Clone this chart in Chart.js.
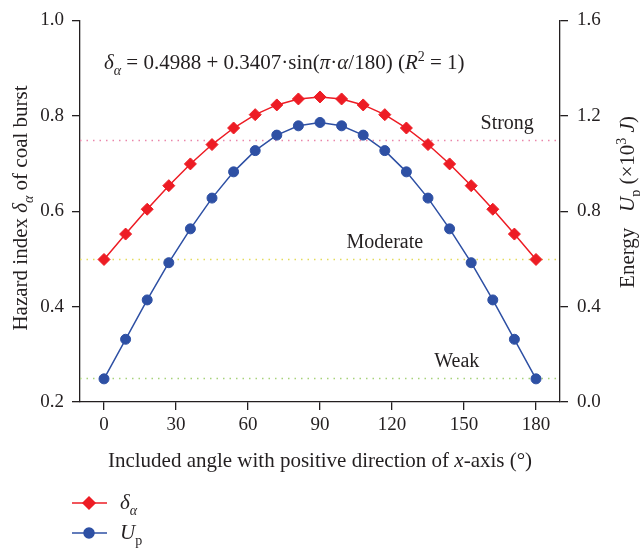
<!DOCTYPE html>
<html>
<head>
<meta charset="utf-8">
<script src="https://cdn.jsdelivr.net/npm/chart.js@4.4.1/dist/chart.umd.min.js"></script>
<style>
  html, body { margin: 0; padding: 0; background: #fff; }
  #wrap { width: 640px; height: 556px; }
</style>
</head>
<body>
<div id="wrap"><canvas id="chart" width="640" height="556"></canvas></div>
<script>
// included angle (deg)
const angles = [0, 9, 18, 27, 36, 45, 54, 63, 72, 81, 90, 99, 108, 117, 126, 135, 144, 153, 162, 171, 180];
// hazard index delta_alpha (left axis)
const hazardIndex = [0.4988, 0.5521, 0.6041, 0.6535, 0.6991, 0.7397, 0.7744, 0.8024, 0.8228, 0.8353, 0.8395,
                     0.8353, 0.8228, 0.8024, 0.7744, 0.7397, 0.6991, 0.6535, 0.6041, 0.5521, 0.4988];
// energy Up x10^3 J (right axis)
const energy = [0.097, 0.263, 0.428, 0.584, 0.726, 0.855, 0.965, 1.054, 1.119, 1.158, 1.172,
                1.158, 1.119, 1.054, 0.965, 0.855, 0.726, 0.584, 0.428, 0.263, 0.097];
const xTicks = [0, 30, 60, 90, 120, 150, 180];
const levelValues = [0.75, 0.5, 0.25];
const levelNames = ['Strong', 'Moderate', 'Weak'];
const levelLabelAt = [168, 117, 147];

const INK = '#231f20';
const RED = '#ed1c24';
const BLUE = '#2e50a4';
const levelColors = ['#ea86aa', '#e4dc5a', '#a6d27a'];
const FAMILY = '"Liberation Serif", "Times New Roman", serif';

// draw a run of text pieces: [text, flags] with i = italic, b = subscript, p = superscript
function drawRuns(ctx, runs, x, y, size, align) {
  const fontOf = f => (f.includes('i') ? 'italic ' : '') +
    Math.round((f.includes('b') || f.includes('p')) ? size * 0.68 : size) + 'px ' + FAMILY;
  let w = 0;
  runs.forEach(([t, f]) => { ctx.font = fontOf(f); w += ctx.measureText(t).width; });
  let cx = align === 'center' ? x - w / 2 : x;
  ctx.textAlign = 'left';
  ctx.textBaseline = 'alphabetic';
  runs.forEach(([t, f]) => {
    ctx.font = fontOf(f);
    const dy = f.includes('b') ? size * 0.28 : f.includes('p') ? -size * 0.4 : 0;
    ctx.fillText(t, cx, y + dy);
    cx += ctx.measureText(t).width;
  });
}

const extras = {
  id: 'extras',
  beforeDatasetsDraw(chart) {
    const { ctx, chartArea: a, scales } = chart;
    ctx.save();
    ctx.lineWidth = 1.5;
    ctx.setLineDash([1.5, 5]);
    levelValues.forEach((v, i) => {
      const py = Math.round(scales.y.getPixelForValue(v)) + 0.5;
      ctx.strokeStyle = levelColors[i];
      ctx.beginPath();
      ctx.moveTo(a.left, py);
      ctx.lineTo(a.right, py);
      ctx.stroke();
    });
    ctx.setLineDash([]);
    ctx.fillStyle = INK;
    ctx.font = '20px ' + FAMILY;
    ctx.textAlign = 'center';
    ctx.textBaseline = 'alphabetic';
    levelNames.forEach((n, i) => {
      ctx.fillText(n, scales.x.getPixelForValue(levelLabelAt[i]), scales.y.getPixelForValue(levelValues[i]) - 11);
    });
    ctx.restore();
  },
  afterDraw(chart) {
    const { ctx, chartArea: a } = chart;
    ctx.save();
    ctx.fillStyle = INK;
    // equation
    drawRuns(ctx, [['δ', 'i'], ['α', 'ib'], [' = 0.4988 + 0.3407·sin(', ''], ['π', 'i'], ['·', ''], ['α', 'i'],
      ['/180) (', ''], ['R', 'i'], ['2', 'p'], [' = 1)', '']], a.left + 24, 69, 20.5, 'left');
    // x title
    drawRuns(ctx, [['Included angle with positive direction of ', ''], ['x', 'i'], ['-axis (°)', '']],
      (a.left + a.right) / 2, 467, 20.5, 'center');
    // left title
    ctx.save();
    ctx.translate(27, 208);
    ctx.rotate(-Math.PI / 2);
    drawRuns(ctx, [['Hazard index ', ''], ['δ', 'i'], ['α', 'ib'], [' of coal burst', '']], 0, 0, 20.5, 'center');
    ctx.restore();
    // right title
    ctx.save();
    ctx.translate(634, 202);
    ctx.rotate(-Math.PI / 2);
    drawRuns(ctx, [['Energy   ', ''], ['U', 'i'], ['p', 'b'], [' (×10', ''], ['3', 'p'], [' ', ''], ['J', 'i'], [')', '']],
      0, 0, 20.5, 'center');
    ctx.restore();
    // legend
    const items = [
      { color: RED, style: 'rectRot', r: 6, y: 503, runs: [['δ', 'i'], ['α', 'ib']] },
      { color: BLUE, style: 'circle', r: 5, y: 533, runs: [['U', 'i'], ['p', 'b']] }
    ];
    items.forEach(it => {
      ctx.strokeStyle = it.color;
      ctx.lineWidth = 1.5;
      ctx.beginPath();
      ctx.moveTo(72, it.y);
      ctx.lineTo(107, it.y);
      ctx.stroke();
      ctx.fillStyle = it.color;
      Chart.helpers.drawPoint(ctx, { pointStyle: it.style, radius: it.r, rotation: 0, borderWidth: 1 }, 89, it.y);
      ctx.fill();
      ctx.fillStyle = INK;
      drawRuns(ctx, it.runs, 120, it.y + 6, 21, 'left');
    });
    ctx.restore();
  }
};

const tickFont = { family: FAMILY, size: 19 };

new Chart(document.getElementById('chart'), {
  type: 'line',
  data: {
    datasets: [
      {
        label: 'δα',
        data: angles.map((a, i) => ({ x: a, y: hazardIndex[i] })),
        yAxisID: 'y',
        borderColor: RED,
        backgroundColor: RED,
        borderWidth: 1.5,
        pointStyle: 'rectRot',
        pointRadius: 6,
        pointBorderWidth: 1,
        tension: 0
      },
      {
        label: 'Up',
        data: angles.map((a, i) => ({ x: a, y: energy[i] })),
        yAxisID: 'y1',
        borderColor: BLUE,
        backgroundColor: BLUE,
        borderWidth: 1.5,
        pointStyle: 'circle',
        pointRadius: 5,
        pointBorderWidth: 1,
        tension: 0
      }
    ]
  },
  options: {
    responsive: false,
    animation: false,
    layout: { padding: { top: 15, left: 0, right: 0, bottom: 0 } },
    plugins: { legend: { display: false }, tooltip: { enabled: false } },
    scales: {
      x: {
        type: 'linear',
        min: -10,
        max: 190,
        afterBuildTicks: s => { s.ticks = xTicks.map(v => ({ value: v })); },
        afterFit: s => { s.height = 154; },
        grid: { drawOnChartArea: false, drawTicks: true, tickLength: 8, color: INK, lineWidth: 1.3 },
        border: { color: INK, width: 1.3 },
        ticks: { font: tickFont, color: INK, padding: 4, maxRotation: 0 }
      },
      y: {
        position: 'left',
        min: 0.2,
        max: 1.0,
        afterFit: s => { s.width = 80; },
        grid: { drawOnChartArea: false, drawTicks: true, tickLength: 8, color: INK, lineWidth: 1.3 },
        border: { color: INK, width: 1.3 },
        ticks: { stepSize: 0.2, font: tickFont, color: INK, padding: 8, callback: v => v.toFixed(1) }
      },
      y1: {
        position: 'right',
        min: 0,
        max: 1.6,
        afterFit: s => { s.width = 80; },
        grid: { drawOnChartArea: false, drawTicks: true, tickLength: 8, color: INK, lineWidth: 1.3 },
        border: { color: INK, width: 1.3 },
        ticks: { stepSize: 0.4, font: tickFont, color: INK, padding: 9, callback: v => v.toFixed(1) }
      }
    }
  },
  plugins: [extras]
});
</script>
</body>
</html>
